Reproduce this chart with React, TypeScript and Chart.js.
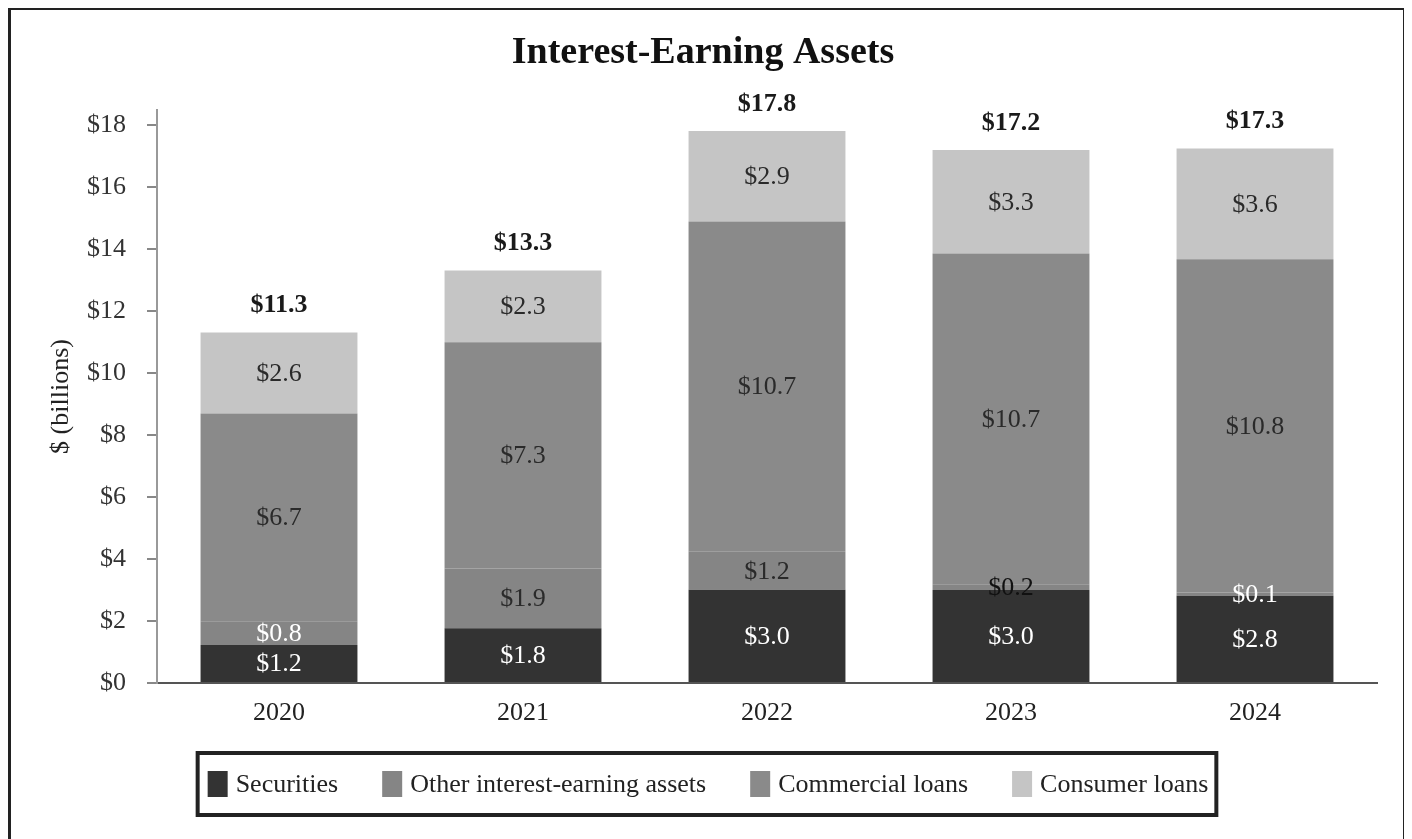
import React, { useEffect, useRef } from "react";
import { Chart, registerables } from "chart.js";

Chart.register(...registerables);

// ---- data ----
const categories = ["2020", "2021", "2022", "2023", "2024"];
const securities = [1.23, 1.77, 3.01, 3.0, 2.82];
const otherAssets = [0.76, 1.93, 1.23, 0.19, 0.1];
const commercialLoans = [6.71, 7.3, 10.66, 10.68, 10.76];
const consumerLoans = [2.62, 2.32, 2.92, 3.34, 3.58];
const seriesNames = ["Securities", "Other interest-earning assets", "Commercial loans", "Consumer loans"];
const yTickValues = [0, 2, 4, 6, 8, 10, 12, 14, 16, 18];

// ---- styles ----
const FONT = "'Liberation Serif', 'Times New Roman', serif";
const seriesColors = ["#333333", "#858585", "#8a8a8a", "#c5c5c5"];
const labelColors = [
  ["#ffffff", "#ffffff", "#ffffff", "#ffffff", "#ffffff"],
  ["#ffffff", "#2a2a2a", "#2a2a2a", "#111111", "#ffffff"],
  ["#2a2a2a", "#2a2a2a", "#2a2a2a", "#2a2a2a", "#2a2a2a"],
  ["#2a2a2a", "#2a2a2a", "#2a2a2a", "#2a2a2a", "#2a2a2a"],
];

const fmt = (v: number) => "$" + v.toFixed(1);

const valueLabelPlugin = {
  id: "valueLabels",
  afterDatasetsDraw(chart: any) {
    const ctx = chart.ctx;
    ctx.save();
    ctx.textAlign = "center";
    ctx.textBaseline = "middle";
    ctx.font = `26px ${FONT}`;
    chart.data.datasets.forEach((ds: any, di: number) => {
      const meta = chart.getDatasetMeta(di);
      meta.data.forEach((el: any, i: number) => {
        const v = ds.data[i];
        const cy = (el.y + el.base) / 2;
        ctx.fillStyle = labelColors[di][i];
        ctx.fillText(fmt(v), el.x, cy + 1);
      });
    });
    // totals
    const yScale = chart.scales.y;
    const lastMeta = chart.getDatasetMeta(chart.data.datasets.length - 1);
    ctx.font = `bold 26px ${FONT}`;
    ctx.fillStyle = "#1a1a1a";
    categories.forEach((_, i) => {
      const total = chart.data.datasets.reduce((s: number, d: any) => s + d.data[i], 0);
      const y = yScale.getPixelForValue(total) - 27;
      ctx.fillText(fmt(total), lastMeta.data[i].x, y);
    });
    ctx.restore();
  },
};

const boxLegendPlugin = {
  id: "boxLegend",
  afterDraw(chart: any) {
    const ctx = chart.ctx;
    ctx.save();
    ctx.font = `26px ${FONT}`;
    const sw = 20, sh = 26, gapText = 8, gapItem = 44, padL = 8, padR = 6, border = 4;
    const items = chart.data.datasets.map((d: any) => ({
      text: d.label,
      color: d.backgroundColor,
      w: ctx.measureText(d.label).width,
    }));
    let content = 0;
    items.forEach((it: any, i: number) => {
      content += sw + gapText + it.w + (i < items.length - 1 ? gapItem : 0);
    });
    const boxW = content + padL + padR + border * 2;
    const boxH = 66;
    const boxX = chart.width / 2 - boxW / 2;
    const boxY = chart.scales.x.bottom + 8;
    ctx.strokeStyle = "#222";
    ctx.lineWidth = border;
    ctx.strokeRect(boxX + border / 2, boxY + border / 2, boxW - border, boxH - border);
    let x = boxX + border + padL;
    const cy = boxY + boxH / 2;
    ctx.textBaseline = "middle";
    ctx.textAlign = "left";
    items.forEach((it: any) => {
      ctx.fillStyle = it.color;
      ctx.fillRect(x, cy - sh / 2, sw, sh);
      x += sw + gapText;
      ctx.fillStyle = "#222";
      ctx.fillText(it.text, x, cy + 1);
      x += it.w + gapItem;
    });
    ctx.restore();
  },
};

export default function App() {
  const ref = useRef<HTMLCanvasElement | null>(null);

  useEffect(() => {
    document.documentElement.style.overflow = "hidden";
    document.body.style.overflow = "hidden";
    const canvas = ref.current;
    if (!canvas) return;
    const seriesData = [securities, otherAssets, commercialLoans, consumerLoans];
    const chart = new Chart(canvas, {
      type: "bar",
      data: {
        labels: categories,
        datasets: seriesData.map((d, i) => ({
          label: seriesNames[i],
          data: d,
          backgroundColor: seriesColors[i],
          borderWidth: 0,
          barPercentage: 0.643,
          categoryPercentage: 1,
        })),
      },
      options: {
        responsive: false,
        animation: false,
        layout: { padding: { top: 0, left: 18, right: 26, bottom: 96 } },
        plugins: {
          legend: { display: false },
          tooltip: { enabled: false },
          title: {
            display: true,
            text: "Interest-Earning Assets",
            color: "#111",
            font: { family: FONT, size: 38, weight: "bold" },
            padding: { top: 20.2, bottom: 34.2 },
          },
        },
        scales: {
          x: {
            stacked: true,
            grid: { display: false, drawTicks: false },
            border: { display: true, color: "#555", width: 2 },
            ticks: { color: "#222", font: { family: FONT, size: 26 }, padding: 15 },
            afterFit: (s: any) => {
              s.height = 60;
            },
          },
          y: {
            stacked: true,
            min: 0,
            max: 18.5,
            afterBuildTicks: (s: any) => {
              s.ticks = yTickValues.map((v) => ({ value: v }));
            },
            afterFit: (s: any) => {
              s.width = 128;
            },
            ticks: {
              color: "#333",
              font: { family: FONT, size: 26 },
              padding: 21,
              callback: (v: any) => "$" + v,
            },
            grid: { drawOnChartArea: false, drawTicks: true, tickLength: 10, color: "#888", lineWidth: 2 },
            border: { display: true, color: "#999", width: 2 },
            title: {
              display: true,
              text: "$ (billions)",
              color: "#222",
              font: { family: FONT, size: 26 },
              padding: { top: 17, bottom: 0 },
            },
          },
        },
      },
      plugins: [valueLabelPlugin, boxLegendPlugin],
    });
    return () => chart.destroy();
  }, []);

  return (
    <div
      style={{
        width: 1398,
        height: 900,
        border: "3px solid #222",
        boxSizing: "border-box",
        marginTop: -1,
        background: "#fff",
        overflow: "hidden",
      }}
    >
      <canvas ref={ref} width={1392} height={829} style={{ display: "block" }} />
    </div>
  );
}
